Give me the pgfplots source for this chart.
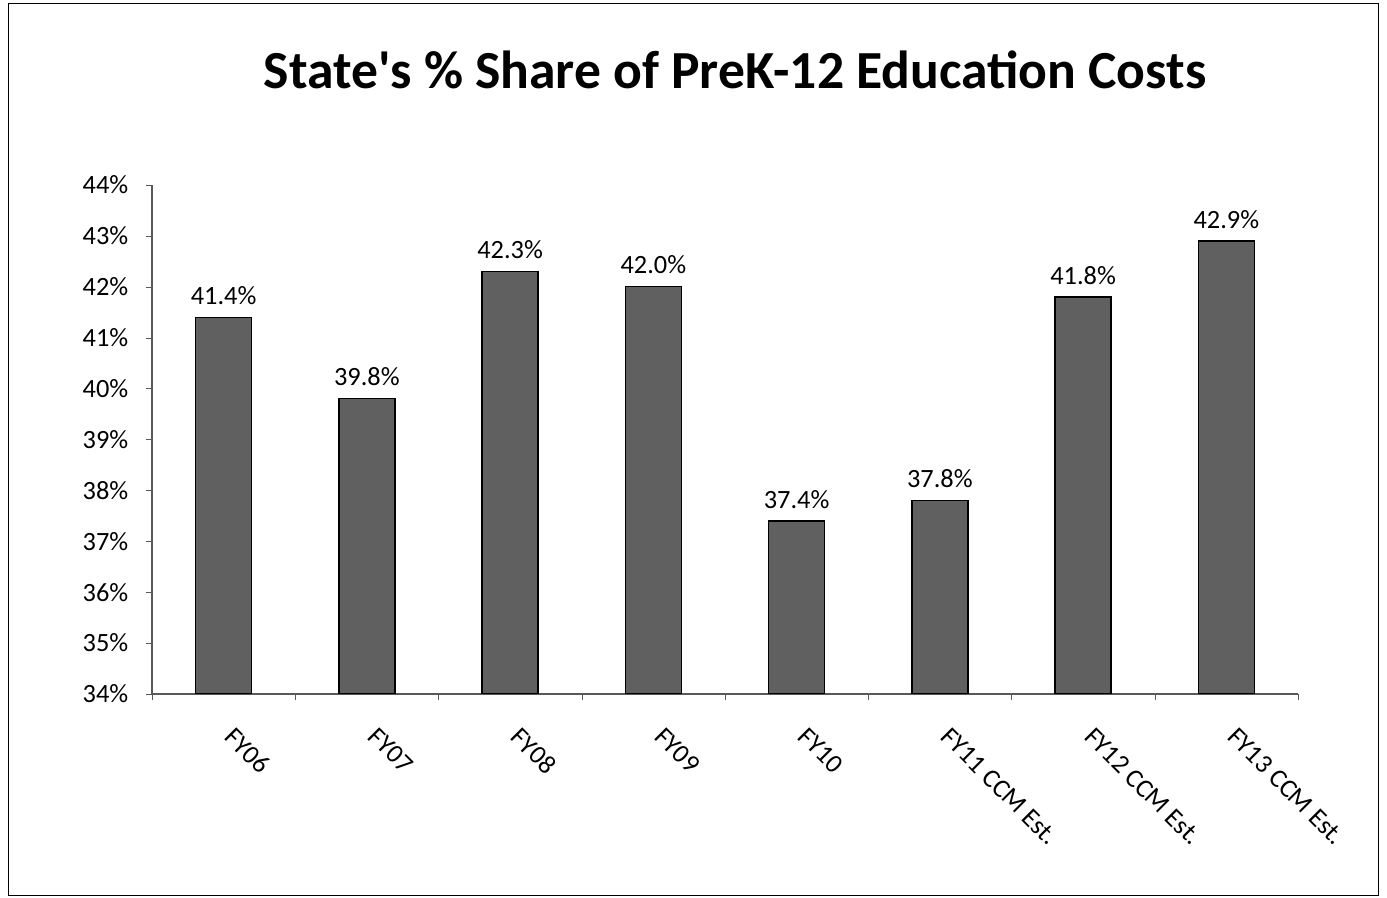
\documentclass[border=0pt]{standalone}
\usepackage{pgfplots}
\pgfplotsset{compat=1.18}
\usepackage{fontspec}
\setmainfont{Carlito}
\definecolor{barfill}{RGB}{96,96,96}
\begin{document}
\begin{tikzpicture}
% frame round the whole chart (1387 x 898 px, 1px = 0.2mm)
\begin{scope}[x=0.2mm,y=0.2mm]
\useasboundingbox (0,0) rectangle (1387,898);
\draw[line width=0.5pt] (8,3) rectangle (1378,895);
\node[font=\bfseries\fontsize{30.5}{36}\selectfont] at (735,828) {State\textquotesingle s \% Share of PreK-12 Education Costs};
\end{scope}
\begin{axis}[
    at={(30.4mm,40.8mm)}, anchor=south west,
    scale only axis,
    width=229.2mm, height=101.8mm,
    ybar, bar width=11.2mm, bar shift=0pt,
    xmin=-0.5, xmax=7.5,
    ymin=34, ymax=44,
    axis x line*=bottom, axis y line*=left,
    axis line style={-, gray!70!black, line width=0.6pt},
    xtick=data,
    xticklabels={FY06,FY07,FY08,FY09,FY10,FY11 CCM Est.,FY12 CCM Est.,FY13 CCM Est.},
    major x tick style={draw=none},
    minor xtick={-0.5,0.5,...,7.5},
    minor tick length=1.3mm,
    minor x tick style={gray!70!black},
    ytick={34,35,...,44},
    tick align=outside,
    major tick length=1.3mm,
    y tick style={gray!70!black},
    yticklabel={\pgfmathprintnumber[fixed,precision=0]{\tick}\%},
    /pgf/number format/assume math mode=true,
    yticklabel style={font=\fontsize{15}{18}\selectfont, xshift=-2.2mm},
    xticklabel style={font=\fontsize{15}{18}\selectfont, rotate=-45, anchor=north west, yshift=-0.7mm, xshift=4.1mm},
    nodes near coords={\pgfmathprintnumber[fixed,fixed zerofill,precision=1]{\pgfplotspointmeta}\%},
    every node near coord/.append style={font=\fontsize{15}{18}\selectfont, black, yshift=1.2mm},
]
\addplot[fill=barfill, draw=black, line width=0.8pt] coordinates {
    (0,41.4) (1,39.8) (2,42.3) (3,42.0) (4,37.4) (5,37.8) (6,41.8) (7,42.9)
};
\end{axis}
\end{tikzpicture}
\end{document}
